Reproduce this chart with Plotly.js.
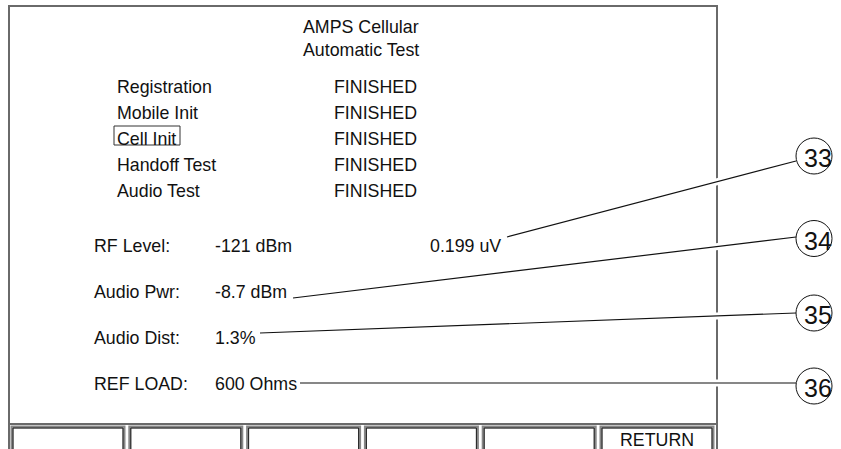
<!DOCTYPE html>
<html>
<head>
<meta charset="utf-8">
<script src="https://cdn.plot.ly/plotly-3.0.1.min.js"></script>
<style>html,body{margin:0;padding:0;background:#fff;}#chart{width:841px;height:449px;}</style>
</head>
<body>
<div id="chart"></div>
<script>
// ---- content ----
const titleLines = ['AMPS Cellular', 'Automatic Test'];
const testNames = ['Registration', 'Mobile Init', 'Cell Init', 'Handoff Test', 'Audio Test'];
const testStatus = ['FINISHED', 'FINISHED', 'FINISHED', 'FINISHED', 'FINISHED'];
const selectedTest = 'Cell Init';
const measLabels = ['RF Level:', 'Audio Pwr:', 'Audio Dist:', 'REF LOAD:'];
const measValues = ['-121 dBm', '-8.7 dBm', '1.3%', '600 Ohms'];
const rfVoltage = '0.199 uV';
const calloutNumbers = ['33', '34', '35', '36'];
const softKeys = ['', '', '', '', '', 'RETURN'];

// ---- layout geometry (pixel space of the screen drawing) ----
const G = {
  frame: {x0: 9, y0: 6, x1: 717, y1: 470, sep: 424},
  title: {x: 301, y0: 27, dy: 23},
  tests: {xName: 115, xStatus: 332, y0: 87, dy: 26},
  meas: {xLabel: 92, xValue: 213, xVolt: 428, y0: 246, dy: 46},
  callout: {cx: 814, r: 18, cy: [156, 238.5, 313, 386],
            start: [[507, 237], [293, 298], [260, 333], [300, 383]],
            endDy: [5, -1.5, 0, -3]},
  keys: {x0: 12, pitch: 117.8, w: 112, y0: 427, y1: 470},
  selBox: {x0: 114, x1: 180, pad: [-13, 6]}
};

const FONT = 'Liberation Sans, Arial, sans-serif';
const ink = '#111';
const BASE = 17.8;
const annotations = [];
const shapes = [];

function txt(x, y, text, size, anchor) {
  annotations.push({x: x, y: y, xref: 'x', yref: 'y', text: text, showarrow: false,
    xanchor: anchor || 'left', yanchor: 'middle', font: {family: FONT, size: size || BASE, color: ink}});
}

// title
titleLines.forEach((t, i) => txt(G.title.x, G.title.y0 + i * G.title.dy, t));
// tests
testNames.forEach((t, i) => {
  const y = G.tests.y0 + i * G.tests.dy;
  txt(G.tests.xName, y, t);
  txt(G.tests.xStatus, y, testStatus[i]);
  if (t === selectedTest) {
    shapes.push({type: 'rect', xref: 'x', yref: 'y', x0: G.selBox.x0, x1: G.selBox.x1,
      y0: y + G.selBox.pad[0], y1: y + G.selBox.pad[1], line: {color: '#333', width: 1}});
  }
});
// measurements
measLabels.forEach((t, i) => {
  const y = G.meas.y0 + i * G.meas.dy;
  txt(G.meas.xLabel, y, t);
  txt(G.meas.xValue, y, measValues[i]);
});
txt(G.meas.xVolt, G.meas.y0, rfVoltage);

// frame
const F = G.frame;
shapes.push({type: 'rect', xref: 'x', yref: 'y', x0: F.x0, y0: F.y0, x1: F.x1, y1: F.y1, line: {color: '#6a6a6a', width: 2}});
shapes.push({type: 'line', xref: 'x', yref: 'y', x0: F.x0, x1: F.x1, y0: F.sep, y1: F.sep, line: {color: '#6a6a6a', width: 2}});

// soft keys
softKeys.forEach((k, i) => {
  const x0 = G.keys.x0 + i * G.keys.pitch;
  shapes.push({type: 'rect', xref: 'x', yref: 'y', x0: x0, x1: x0 + G.keys.w, y0: G.keys.y0, y1: G.keys.y1,
    line: {color: '#888', width: 3}});
  shapes.push({type: 'rect', xref: 'x', yref: 'y', x0: x0 + 1, x1: x0 + G.keys.w - 1, y0: G.keys.y0 + 1, y1: G.keys.y1,
    line: {color: '#222', width: 1}});
  if (k) txt(x0 + G.keys.w / 2, 440, k, BASE, 'center');
});

// callouts
const C = G.callout;
calloutNumbers.forEach((n, i) => {
  const [sx, sy] = C.start[i];
  const ex = C.cx - C.r, ey = C.cy[i] + C.endDy[i];
  // gap in the frame where the leader crosses
  const t0 = (F.x1 - 5 - sx) / (ex - sx), t1 = (F.x1 + 5 - sx) / (ex - sx);
  shapes.push({type: 'line', xref: 'x', yref: 'y', x0: sx + t0 * (ex - sx), y0: sy + t0 * (ey - sy),
    x1: sx + t1 * (ex - sx), y1: sy + t1 * (ey - sy), line: {color: '#fff', width: 7}});
  shapes.push({type: 'line', xref: 'x', yref: 'y', x0: sx, y0: sy, x1: ex, y1: ey, line: {color: ink, width: 1.2}});
  shapes.push({type: 'circle', xref: 'x', yref: 'y', x0: C.cx - C.r, x1: C.cx + C.r,
    y0: C.cy[i] - C.r, y1: C.cy[i] + C.r, line: {color: ink, width: 1}});
  txt(C.cx + 4, C.cy[i] + 2, n, 25, 'center');
});

const layout = {
  width: 841, height: 449,
  margin: {l: 0, r: 0, t: 0, b: 0},
  paper_bgcolor: '#fff', plot_bgcolor: '#fff',
  showlegend: false,
  xaxis: {range: [0, 841], visible: false, fixedrange: true},
  yaxis: {range: [449, 0], visible: false, fixedrange: true},
  shapes: shapes,
  annotations: annotations
};

Plotly.newPlot('chart', [{x: [0, 841], y: [0, 449], mode: 'markers', marker: {opacity: 0}, hoverinfo: 'skip'}],
  layout, {displayModeBar: false, staticPlot: true});
</script>
</body>
</html>
